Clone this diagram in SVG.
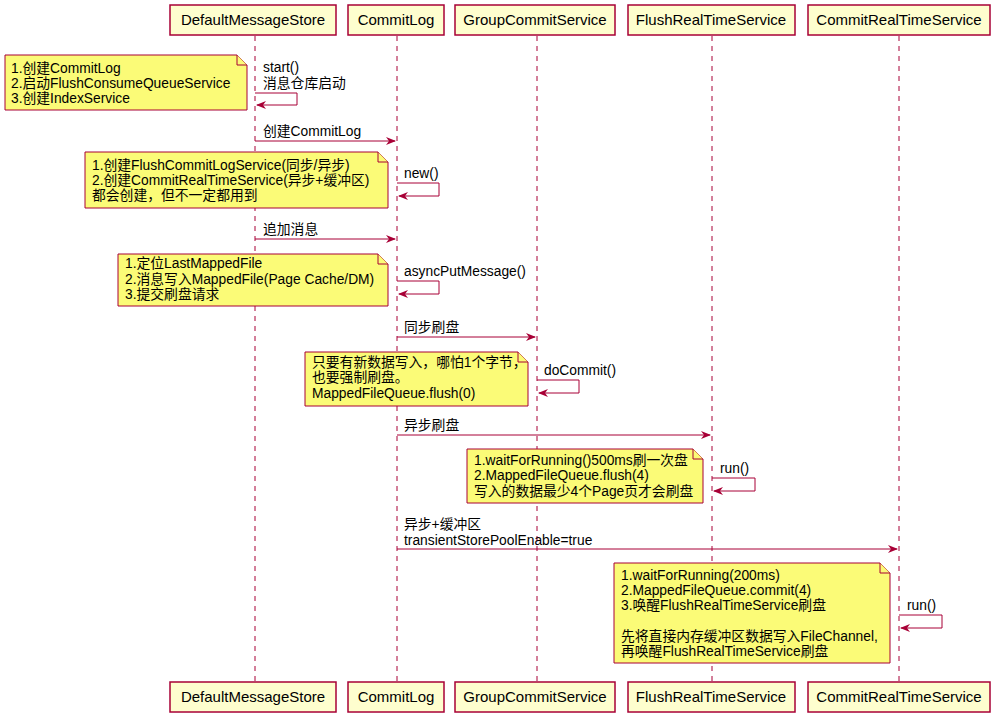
<svg xmlns="http://www.w3.org/2000/svg" width="1003" height="726" viewBox="0 0 1003 726">
<defs>
<marker id="ah" markerWidth="10" markerHeight="8" refX="9" refY="4" orient="auto" markerUnits="userSpaceOnUse"><path d="M0,0 L10,4 L0,8 L3,4 Z" fill="#A80036"/></marker>
<style>
text{font-family:"Liberation Sans","Noto Sans CJK SC",sans-serif;font-size:13.8px;fill:#000}
.p{fill:#FEFECE;stroke:#A80036;stroke-width:1.5}
.pt{font-size:15px;text-anchor:middle}
.ll{stroke:#A80036;stroke-width:1;stroke-dasharray:5,5;fill:none}
.m{stroke:#A80036;stroke-width:1;fill:none;marker-end:url(#ah)}
.n{fill:#FBFB77;stroke:#A80036;stroke-width:1}
</style>
</defs>
<rect width="1003" height="726" fill="#fff"/>
<g id="lifelines">
<line class="ll" x1="255" y1="36" x2="255" y2="682"/>
<line class="ll" x1="397" y1="36" x2="397" y2="682"/>
<line class="ll" x1="537" y1="36" x2="537" y2="682"/>
<line class="ll" x1="712" y1="36" x2="712" y2="682"/>
<line class="ll" x1="899" y1="36" x2="899" y2="682"/>
</g>
<g id="p-dms"><rect class="p" x="170" y="5" width="166" height="30"/><text class="pt" x="253" y="25">DefaultMessageStore</text><rect class="p" x="170" y="682" width="166" height="30"/><text class="pt" x="253" y="702">DefaultMessageStore</text></g>
<g id="p-cl"><rect class="p" x="348" y="5" width="96" height="30"/><text class="pt" x="396" y="25">CommitLog</text><rect class="p" x="348" y="682" width="96" height="30"/><text class="pt" x="396" y="702">CommitLog</text></g>
<g id="p-gcs"><rect class="p" x="455" y="5" width="160" height="30"/><text class="pt" x="535" y="25">GroupCommitService</text><rect class="p" x="455" y="682" width="160" height="30"/><text class="pt" x="535" y="702">GroupCommitService</text></g>
<g id="p-frts"><rect class="p" x="628" y="5" width="167" height="30"/><text class="pt" x="711" y="25">FlushRealTimeService</text><rect class="p" x="628" y="682" width="167" height="30"/><text class="pt" x="711" y="702">FlushRealTimeService</text></g>
<g id="p-crts"><rect class="p" x="808" y="5" width="182" height="30"/><text class="pt" x="899" y="25">CommitRealTimeService</text><rect class="p" x="808" y="682" width="182" height="30"/><text class="pt" x="899" y="702">CommitRealTimeService</text></g>
<g id="connectors">
<path class="m" d="M255,93 H297 V105 H257"/>
<path class="m" d="M255,141 H395"/>
<path class="m" d="M397,183 H439 V196 H399"/>
<path class="m" d="M255,239 H395"/>
<path class="m" d="M397,281 H439 V294 H399"/>
<path class="m" d="M397,337 H535"/>
<path class="m" d="M537,380 H579 V393 H539"/>
<path class="m" d="M397,435 H710"/>
<path class="m" d="M712,478 H755 V491 H714"/>
<path class="m" d="M397,549 H897"/>
<path class="m" d="M899,615 H942 V628 H901"/>
</g>
<g id="labels">
<text x="263" y="72">start()</text><text x="263" y="88">消息仓库启动</text>
<text x="263" y="136">创建CommitLog</text>
<text x="404" y="178">new()</text>
<text x="263" y="234">追加消息</text>
<text x="404" y="276">asyncPutMessage()</text>
<text x="404" y="332">同步刷盘</text>
<text x="544" y="375">doCommit()</text>
<text x="404" y="430">异步刷盘</text>
<text x="720" y="473">run()</text>
<text x="404" y="529">异步+缓冲区</text><text x="404" y="545">transientStorePoolEnable=true</text>
<text x="907" y="610">run()</text>
</g>
<g id="note1"><path class="n" d="M5,55 H237 L247,65 V110 H5 Z"/><path class="n" d="M237,55 V65 H247"/><text x="11" y="73">1.创建CommitLog</text><text x="11" y="88">2.启动FlushConsumeQueueService</text><text x="11" y="103">3.创建IndexService</text></g>
<g id="note2"><path class="n" d="M85,152 H378 L388,162 V208 H85 Z"/><path class="n" d="M378,152 V162 H388"/><text x="92" y="170">1.创建FlushCommitLogService(同步/异步)</text><text x="92" y="185">2.创建CommitRealTimeService(异步+缓冲区)</text><text x="92" y="200">都会创建，但不一定都用到</text></g>
<g id="note3"><path class="n" d="M118,254 H378 L388,264 V306 H118 Z"/><path class="n" d="M378,254 V264 H388"/><text x="125" y="268">1.定位LastMappedFile</text><text x="125" y="284">2.消息写入MappedFile(Page Cache/DM)</text><text x="125" y="299">3.提交刷盘请求</text></g>
<g id="note4"><path class="n" d="M305,352 H518 L528,362 V406 H305 Z"/><path class="n" d="M518,352 V362 H528"/><text x="312" y="367">只要有新数据写入，哪怕1个字节，</text><text x="312" y="382">也要强制刷盘。</text><text x="312" y="398">MappedFileQueue.flush(0)</text></g>
<g id="note5"><path class="n" d="M467,449 H693 L703,459 V503 H467 Z"/><path class="n" d="M693,449 V459 H703"/><text x="474" y="465">1.waitForRunning()500ms刷一次盘</text><text x="474" y="480">2.MappedFileQueue.flush(4)</text><text x="474" y="496">写入的数据最少4个Page页才会刷盘</text></g>
<g id="note6"><path class="n" d="M614,563 H880 L890,573 V663 H614 Z"/><path class="n" d="M880,563 V573 H890"/><text x="621" y="580">1.waitForRunning(200ms)</text><text x="621" y="595">2.MappedFileQueue.commit(4)</text><text x="621" y="610">3.唤醒FlushRealTimeService刷盘</text><text x="621" y="641">先将直接内存缓冲区数据写入FileChannel,</text><text x="621" y="656">再唤醒FlushRealTimeService刷盘</text></g>
</svg>
